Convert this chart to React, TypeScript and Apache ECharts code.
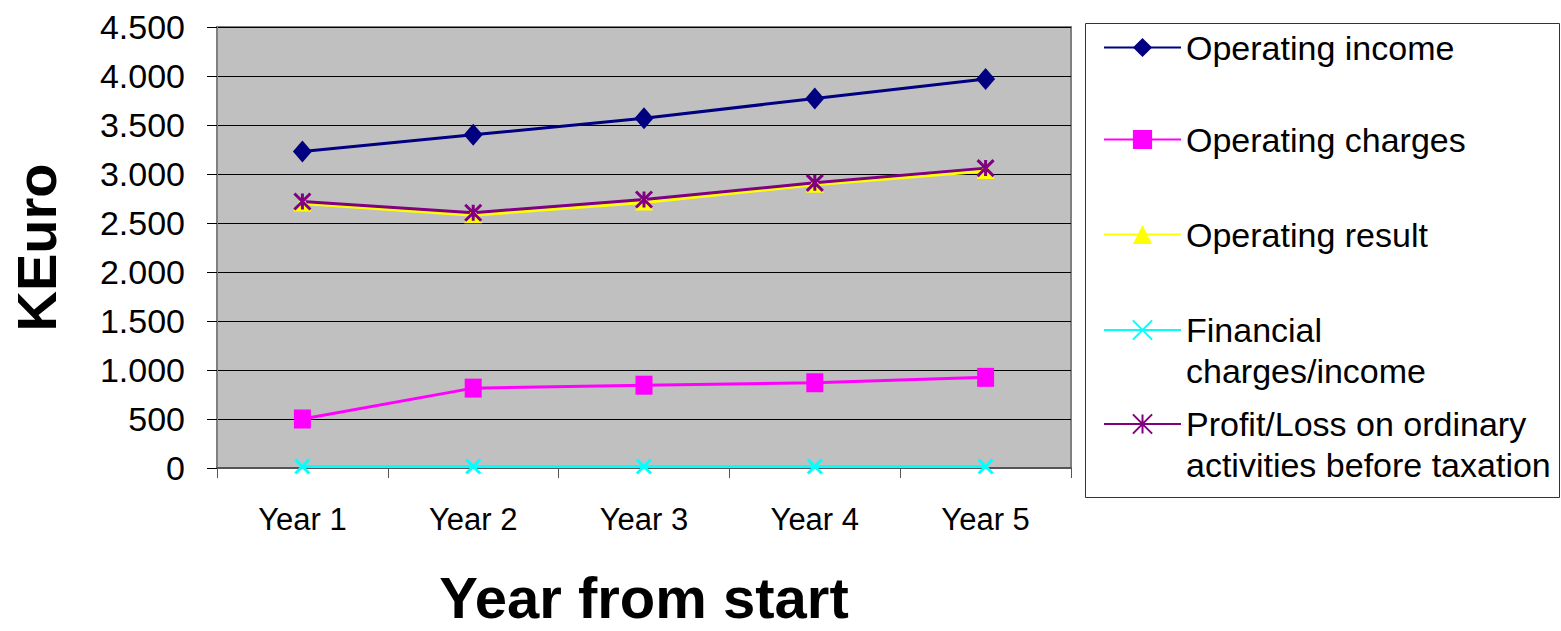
import React, { useEffect, useRef } from "react";
import * as echarts from "echarts";

const categories = ["Year 1", "Year 2", "Year 3", "Year 4", "Year 5"];
const operatingIncome = [3230, 3400, 3570, 3770, 3970];
const operatingCharges = [500, 815, 845, 870, 925];
const operatingResult = [2700, 2580, 2710, 2890, 3030];
const financialCharges = [15, 15, 15, 15, 15];
const profitLoss = [2720, 2605, 2740, 2910, 3060];

const seriesNames = [
  "Operating income",
  "Operating charges",
  "Operating result",
  "Financial charges/income",
  "Profit/Loss on ordinary activities before taxation",
];
const legendLabels: Record<string, string> = {
  "Financial charges/income": "\nFinancial\ncharges/income",
  "Profit/Loss on ordinary activities before taxation": "\nProfit/Loss on ordinary\nactivities before taxation",
};

const FONT = "'Liberation Sans', Arial, sans-serif";
const X_PATH = "path://M0,0L10,10M10,0L0,10";
const STAR_PATH = "path://M0,0L10,10M10,0L0,10M5,0L5,10";

function fmt(v: number) {
  if (v >= 1000) {
    const t = Math.floor(v / 1000);
    const r = v % 1000;
    return `${t}.${String(r).padStart(3, "0")}`;
  }
  return String(v);
}

export default function App() {
  const ref = useRef<HTMLDivElement>(null);
  useEffect(() => {
    if (!ref.current) return;
    const chart = echarts.init(ref.current, undefined, { renderer: "svg" });
    const LH = 41;
    const centers = [48, 140, 235, 330, 424];
    const legends = seriesNames.map((n, i) => ({
      data: [n],
      left: 1103,
      top: i >= 3 ? centers[i] - 1.5 * LH : centers[i] - 21,
      padding: 0,
      itemWidth: 77,
      itemHeight: 24,
      selectedMode: false,
      formatter: (name: string) => legendLabels[name] || name,
      textStyle: {
        fontFamily: FONT,
        fontSize: 34,
        color: "#000",
        lineHeight: LH,
      },
    }));
    const mk = (
      name: string,
      data: number[],
      color: string,
      symbol: string,
      size: number | number[],
      stroke = false
    ) => ({
      name,
      type: "line",
      data,
      symbol,
      symbolSize: size,
      lineStyle: { color, width: 3 },
      itemStyle: stroke
        ? { color, borderColor: color, borderWidth: 3 }
        : { color },
    });
    chart.setOption({
      animation: false,
      backgroundColor: "#fff",
      grid: {
        left: 215,
        right: 490,
        top: 27,
        bottom: 163,
        show: true,
        backgroundColor: "#c0c0c0",
        borderColor: "#808080",
        borderWidth: 2,
      },
      legend: legends,
      graphic: [
        {
          type: "rect",
          shape: { x: 1085.5, y: 23.5, width: 474, height: 474 },
          style: { fill: "none", stroke: "#333", lineWidth: 1 },
          z: -1,
        },
      ],
      xAxis: {
        type: "category",
        data: categories,
        boundaryGap: true,
        name: "Year from start",
        nameLocation: "middle",
        nameGap: 100,
        nameTextStyle: { fontFamily: FONT, fontSize: 58, fontWeight: "bold", color: "#000" },
        axisLine: { lineStyle: { color: "#555", width: 2 } },
        axisTick: { show: true, length: 10, lineStyle: { color: "#555", width: 1 } },
        axisLabel: { fontFamily: FONT, fontSize: 31, color: "#000", margin: 36 },
        splitLine: { show: false },
      },
      yAxis: {
        type: "value",
        min: 0,
        max: 4500,
        interval: 500,
        name: "KEuro",
        nameLocation: "middle",
        nameGap: 153,
        nameRotate: 90,
        nameTextStyle: { fontFamily: FONT, fontSize: 56, fontWeight: "bold", color: "#000" },
        axisLine: { show: true, lineStyle: { color: "#808080", width: 2 } },
        axisTick: { show: true, length: 10, lineStyle: { color: "#000", width: 1 } },
        axisLabel: { fontFamily: FONT, fontSize: 34, color: "#000", margin: 32, formatter: fmt },
        splitLine: { show: true, lineStyle: { color: "#000", width: 1 } },
      },
      series: [
        mk(seriesNames[0], operatingIncome, "#000080", "diamond", [19, 22]),
        mk(seriesNames[1], operatingCharges, "#ff00ff", "rect", [17, 19]),
        mk(seriesNames[2], operatingResult, "#ffff00", "triangle", [18, 16]),
        mk(seriesNames[3], financialCharges, "#00ffff", X_PATH, 14, true),
        mk(seriesNames[4], profitLoss, "#800080", STAR_PATH, 16, true),
      ],
    });
    return () => chart.dispose();
  }, []);
  return (
    <div
      ref={ref}
      style={{ position: "fixed", left: 0, top: 0, width: 1561, height: 631 }}
    />
  );
}
